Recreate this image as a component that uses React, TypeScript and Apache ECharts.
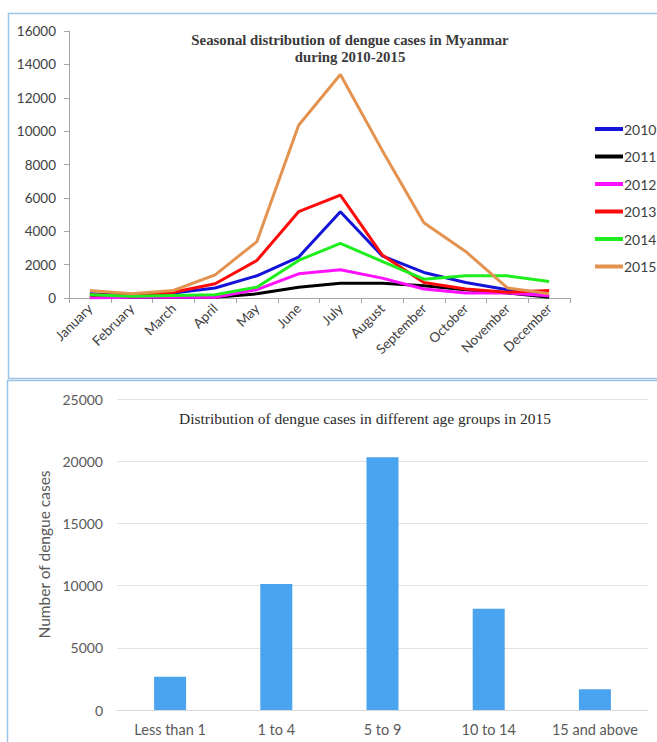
import React, { useEffect, useRef } from "react";
import * as echarts from "echarts";

const months = ["January","February","March","April","May","June","July","August","September","October","November","December"];
const years = ["2010","2011","2012","2013","2014","2015"];
const cases2010 = [250,150,300,600,1330,2450,5170,2530,1530,930,500,100];
const cases2011 = [50,30,50,50,250,650,890,890,730,500,300,40];
const cases2012 = [0,50,50,50,500,1450,1690,1190,540,300,300,140];
const cases2013 = [200,150,350,850,2250,5170,6170,2580,930,540,340,450];
const cases2014 = [200,100,150,200,650,2250,3280,2190,1130,1330,1330,990];
const cases2015 = [450,260,450,1390,3380,10350,13390,8860,4510,2790,600,260];
const lineColors = ["#1414d8","#000000","#ff10ff","#ff0a0a","#1eee1e","#e3934f"];

const ageGroups = ["Less than 1","1 to 4","5 to 9","10 to 14","15 and above"];
const ageCases = [2680,10130,20310,8140,1660];

export default function App() {
  const ref = useRef<HTMLDivElement>(null);
  useEffect(() => {
    document.body.style.margin = "0";
    const chart = echarts.init(ref.current!, null, { renderer: "svg" });
    const lineData = [cases2010, cases2011, cases2012, cases2013, cases2014, cases2015];
    const plain = (v: number) => String(v);
    chart.setOption({
      animation: false,
      backgroundColor: "#ffffff",
      title: [
        {
          text: "Seasonal distribution of dengue cases in Myanmar\nduring 2010-2015",
          left: 345, top: 26, textAlign: "center",
          textStyle: { fontFamily: "Liberation Serif", fontWeight: "bold", fontSize: 14.8, color: "#3a3a3a", lineHeight: 17 },
        },
        {
          text: "Distribution of dengue cases in different age groups in 2015",
          left: 360, top: 405, textAlign: "center",
          textStyle: { fontFamily: "Liberation Serif", fontWeight: "normal", fontSize: 15.5, color: "#2a2a2a" },
        },
      ],
      legend: {
        data: years,
        orient: "vertical",
        left: 590, top: 116,
        icon: "rect", itemWidth: 28, itemHeight: 4, itemGap: 11.5,
        textStyle: { fontFamily: "Lato", fontSize: 14, color: "#404040", lineHeight: 16, padding: [0,0,0,-4] },
      },
      graphic: [
        { type: "rect", shape: { x: 8.5, y: 13.5, width: 700, height: 365 }, style: { fill: "none", stroke: "#9dc3e6", lineWidth: 1.5 }, silent: true },
        { type: "rect", shape: { x: 7.5, y: 380.5, width: 700, height: 400 }, style: { fill: "none", stroke: "#9dc3e6", lineWidth: 1.5 }, silent: true },
      ],
      grid: [
        { left: 69, right: 87, top: 31, height: 267 },
        { left: 117, right: 9, top: 399, height: 311 },
      ],
      xAxis: [
        {
          gridIndex: 0, type: "category", data: months, boundaryGap: true,
          axisLine: { lineStyle: { color: "#a6a6a6", width: 1 } },
          axisTick: { show: true, length: 5, lineStyle: { color: "#a6a6a6" } },
          axisLabel: { rotate: 45, fontFamily: "Lato", fontSize: 13.5, color: "#404040", margin: 8, interval: 0 },
        },
        {
          gridIndex: 1, type: "category", data: ageGroups,
          axisLine: { lineStyle: { color: "#d9d9d9" } },
          axisTick: { show: false },
          axisLabel: { fontFamily: "Lato", fontSize: 14.5, color: "#595959", margin: 12, interval: 0 },
        },
      ],
      yAxis: [
        {
          gridIndex: 0, type: "value", min: 0, max: 16000, interval: 2000,
          axisLine: { show: true, lineStyle: { color: "#a6a6a6" } },
          axisTick: { show: true, length: 5, lineStyle: { color: "#a6a6a6" } },
          splitLine: { show: false },
          axisLabel: { fontFamily: "Lato", fontSize: 13.5, color: "#404040", margin: 13, formatter: plain },
        },
        {
          gridIndex: 1, type: "value", min: 0, max: 25000, interval: 5000,
          axisLine: { show: false }, axisTick: { show: false },
          splitLine: { lineStyle: { color: "#e3e3e3" } },
          axisLabel: { fontFamily: "Lato", fontSize: 14, color: "#595959", margin: 14, formatter: plain },
          name: "Number of dengue cases", nameLocation: "middle", nameGap: 64,
          nameTextStyle: { fontFamily: "Lato", fontSize: 15.5, color: "#595959" },
        },
      ],
      series: [
        ...years.map((y, i) => ({
          name: y, type: "line", xAxisIndex: 0, yAxisIndex: 0,
          data: lineData[i], showSymbol: false, symbol: "none",
          lineStyle: { width: 3, color: lineColors[i] }, itemStyle: { color: lineColors[i] },
        })),
        {
          name: "Age", type: "bar", xAxisIndex: 1, yAxisIndex: 1,
          data: ageCases, barWidth: 32, itemStyle: { color: "#4aa3ef" },
        },
      ],
    });
    return () => chart.dispose();
  }, []);
  return <div ref={ref} style={{ width: 657, height: 742 }} />;
}
